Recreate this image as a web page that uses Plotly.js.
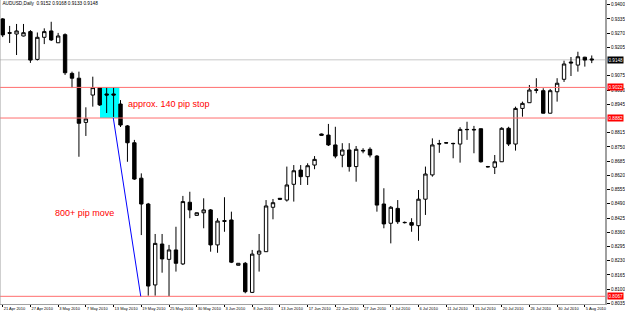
<!DOCTYPE html>
<html>
<head>
<meta charset="utf-8">
<script src="https://cdn.plot.ly/plotly-3.0.1.min.js"></script>
<style>html,body{margin:0;padding:0;background:#fff;}#chart{width:625px;height:315px;}</style>
</head>
<body>
<div id="chart"></div>
<script>
// ---- data (AUDUSD daily bars) ----
const dates = [
"2010-04-21","2010-04-22","2010-04-23","2010-04-26","2010-04-27","2010-04-28","2010-04-29","2010-04-30",
"2010-05-03","2010-05-04","2010-05-05","2010-05-06","2010-05-07","2010-05-10","2010-05-11","2010-05-12",
"2010-05-13","2010-05-14","2010-05-17","2010-05-18","2010-05-19","2010-05-20","2010-05-21","2010-05-24",
"2010-05-25","2010-05-26","2010-05-27","2010-05-28","2010-05-30","2010-05-31","2010-06-01","2010-06-02",
"2010-06-03","2010-06-04","2010-06-06","2010-06-07","2010-06-08","2010-06-09","2010-06-10","2010-06-11",
"2010-06-13","2010-06-14","2010-06-15","2010-06-16","2010-06-17","2010-06-18","2010-06-20","2010-06-21",
"2010-06-22","2010-06-23","2010-06-24","2010-06-25","2010-06-27","2010-06-28","2010-06-29","2010-06-30",
"2010-07-01","2010-07-02","2010-07-04","2010-07-05","2010-07-06","2010-07-07","2010-07-08","2010-07-09",
"2010-07-11","2010-07-12","2010-07-13","2010-07-14","2010-07-15","2010-07-16","2010-07-18","2010-07-19",
"2010-07-20","2010-07-21","2010-07-22","2010-07-23","2010-07-26","2010-07-27","2010-07-28","2010-07-29",
"2010-07-30","2010-08-02","2010-08-03","2010-08-04","2010-08-05","2010-08-06"];

const open = [
0.9335,0.9272,0.9266,0.9257,0.9277,0.9150,0.9251,0.9280,0.9226,0.9263,0.9086,0.9064,0.8862,0.8987,0.9021,0.8992,
0.8992,0.8946,0.8846,0.8769,0.8607,0.8489,0.8119,0.8306,0.8236,0.8279,0.8215,0.8497,0.8437,0.8449,0.8462,0.8302,
0.8413,0.8416,0.8209,0.8218,0.8085,0.8260,0.8271,0.8474,0.8515,0.8507,0.8579,0.8644,0.8614,0.8667,0.8809,0.8804,
0.8759,0.8712,0.8736,0.8660,0.8734,0.8739,0.8708,0.8489,0.8401,0.8469,0.8405,0.8404,0.8390,0.8511,0.8622,0.8763,
0.8769,0.8766,0.8763,0.8830,0.8830,0.8833,0.8660,0.8657,0.8682,0.8835,0.8763,0.8926,0.8952,0.9011,0.9007,0.8904,
0.9002,0.9059,0.9138,0.9124,0.9160,0.9152];
const high = [
0.9339,0.9303,0.9312,0.9312,0.9284,0.9273,0.9292,0.9322,0.9271,0.9269,0.9094,0.9094,0.8931,0.9071,0.9022,0.9022,
0.9022,0.8964,0.8850,0.8782,0.8629,0.8494,0.8352,0.8352,0.8302,0.8385,0.8526,0.8545,0.8450,0.8515,0.8466,0.8424,
0.8520,0.8454,0.8219,0.8224,0.8279,0.8352,0.8507,0.8512,0.8516,0.8660,0.8667,0.8667,0.8675,0.8708,0.8811,0.8855,
0.8842,0.8767,0.8767,0.8754,0.8744,0.8748,0.8713,0.8561,0.8480,0.8507,0.8409,0.8424,0.8553,0.8660,0.8789,0.8782,
0.8772,0.8769,0.8840,0.8865,0.8846,0.8834,0.8663,0.8713,0.8840,0.8842,0.8934,0.8957,0.9033,0.9064,0.9018,0.9015,
0.9064,0.9144,0.9161,0.9185,0.9162,0.9168];
const low = [
0.9252,0.9225,0.9170,0.9255,0.9134,0.9145,0.9220,0.9234,0.9225,0.9079,0.9019,0.8705,0.8800,0.8934,0.8937,0.8905,
0.8887,0.8841,0.8682,0.8599,0.8347,0.8070,0.8070,0.8175,0.8067,0.8180,0.8210,0.8424,0.8436,0.8378,0.8271,0.8266,
0.8362,0.8219,0.8208,0.8081,0.8082,0.8180,0.8270,0.8419,0.8507,0.8500,0.8500,0.8576,0.8576,0.8648,0.8802,0.8754,
0.8698,0.8657,0.8637,0.8591,0.8721,0.8702,0.8454,0.8378,0.8309,0.8398,0.8400,0.8362,0.8321,0.8439,0.8614,0.8723,
0.8766,0.8698,0.8678,0.8782,0.8721,0.8678,0.8656,0.8626,0.8681,0.8754,0.8733,0.8888,0.8951,0.8995,0.8903,0.8903,
0.8957,0.9047,0.9074,0.9094,0.9117,0.9133];
const close = [
0.9262,0.9270,0.9280,0.9272,0.9147,0.9251,0.9277,0.9239,0.9257,0.9089,0.9064,0.8858,0.8878,0.9021,0.8942,0.8987,
0.8987,0.8850,0.8769,0.8603,0.8489,0.8114,0.8309,0.8238,0.8279,0.8218,0.8500,0.8462,0.8449,0.8462,0.8302,0.8411,
0.8410,0.8223,0.8218,0.8088,0.8260,0.8274,0.8480,0.8495,0.8511,0.8576,0.8641,0.8614,0.8664,0.8693,0.8803,0.8759,
0.8708,0.8736,0.8660,0.8739,0.8732,0.8713,0.8484,0.8398,0.8474,0.8408,0.8404,0.8392,0.8511,0.8626,0.8759,0.8765,
0.8768,0.8765,0.8830,0.8829,0.8828,0.8682,0.8659,0.8682,0.8835,0.8763,0.8926,0.8949,0.9010,0.9009,0.8904,0.9007,
0.9041,0.9129,0.9134,0.9162,0.9147,0.9148];

const tickDates = ["2010-04-21","2010-04-27","2010-05-03","2010-05-07","2010-05-13","2010-05-19","2010-05-25","2010-05-30",
"2010-06-03","2010-06-08","2010-06-13","2010-06-17","2010-06-22","2010-06-27","2010-07-01","2010-07-06","2010-07-11",
"2010-07-15","2010-07-20","2010-07-26","2010-07-30","2010-08-05"];
const tickLabels = ["21 Apr 2010","27 Apr 2010","3 May 2010","7 May 2010","13 May 2010","19 May 2010","25 May 2010","30 May 2010",
"3 Jun 2010","8 Jun 2010","13 Jun 2010","17 Jun 2010","22 Jun 2010","27 Jun 2010","1 Jul 2010","6 Jul 2010","11 Jul 2010",
"15 Jul 2010","20 Jul 2010","26 Jul 2010","30 Jul 2010","5 Aug 2010"];
// price scale labels (0.9140 and 0.8880 are hidden under the price tags in the reference)
const priceTicks = [0.9400,0.9335,0.9270,0.9205,0.9075,0.9010,0.8945,0.8815,0.8750,0.8685,0.8620,0.8555,
0.8490,0.8425,0.8360,0.8295,0.8230,0.8165,0.8100,0.8035];

// horizontal levels and drawn objects
const stopTop = 0.9022;
const stopBottom = 0.8882;
const moveLow = 0.8067;
const lastPrice = close[close.length - 1];
const stopZoneBars = [14.04, 16.83];
const moveLineBars = [15.96, 19.92];

const n = dates.length;
const fmt = v => v.toFixed(4);

const trace = {
  type: 'candlestick', x: dates, open: open, high: high, low: low, close: close,
  increasing: {line: {color: '#000000', width: 1}, fillcolor: '#ffffff'},
  decreasing: {line: {color: '#000000', width: 1}, fillcolor: '#000000'},
  whiskerwidth: 0, hoverinfo: 'skip', showlegend: false
};

const redLine = 'rgb(255,110,110)';
const shapes = [
  {type:'rect', xref:'x', yref:'y', x0: stopZoneBars[0], x1: stopZoneBars[1], y0: stopBottom, y1: stopTop,
   fillcolor:'#00ffff', line:{width:0}, layer:'below'},
  {type:'line', xref:'paper', yref:'y', x0:0, x1:1, y0:lastPrice, y1:lastPrice, line:{color:'#c8c8c8', width:1}, layer:'below'},
  {type:'line', xref:'paper', yref:'y', x0:0, x1:1, y0:stopTop, y1:stopTop, line:{color:redLine, width:1}},
  {type:'line', xref:'paper', yref:'y', x0:0, x1:1, y0:stopBottom, y1:stopBottom, line:{color:redLine, width:1}},
  {type:'line', xref:'paper', yref:'y', x0:0, x1:1, y0:moveLow, y1:moveLow, line:{color:redLine, width:1}},
  {type:'line', xref:'x', yref:'y', x0: moveLineBars[0], x1: moveLineBars[1], y0: stopBottom, y1: moveLow,
   line:{color:'#0000ff', width:1}},
  {type:'line', xref:'paper', yref:'paper', x0:0, x1:0, y0:0, y1:1, line:{color:'#a0a0a0', width:1}}
];

function priceTag(v, bg) {
  return {xref:'paper', yref:'y', x:1, y:v, xanchor:'left', yanchor:'middle', xshift:2,
    text: fmt(v), showarrow:false, bgcolor:bg, borderpad:0.5,
    font:{family:'Arial, Liberation Sans, sans-serif', size:4.6, color:'#ffffff'}};
}

const annotations = [
  priceTag(stopTop, '#ff0000'),
  priceTag(stopBottom, '#ff0000'),
  priceTag(moveLow, '#ff0000'),
  priceTag(lastPrice, '#000000'),
  {xref:'x', yref:'y', x: 17.8, y: 0.8944, xanchor:'left', yanchor:'middle', text:'approx. 140 pip stop',
   showarrow:false, font:{family:'Arial, Liberation Sans, sans-serif', size:9, color:'#ff0000'}},
  {xref:'x', yref:'y', x: 7.25, y: 0.8448, xanchor:'left', yanchor:'middle', text:'800+ pip move',
   showarrow:false, font:{family:'Arial, Liberation Sans, sans-serif', size:9, color:'#ff0000'}}
];

const layout = {
  width: 625, height: 315,
  margin: {l:0, r:20, t:0, b:11, pad:0},
  paper_bgcolor:'#ffffff', plot_bgcolor:'#ffffff',
  title: {text: 'AUDUSD,Daily  ' + [open[n-1], high[n-1], low[n-1], close[n-1]].map(fmt).join(' '),
          x: 0.004, xanchor:'left', y: 0.995, yanchor:'top', xref:'paper', yref:'container',
          font:{family:'Arial, Liberation Sans, sans-serif', size:4.7, color:'#000000'}},
  showlegend: false,
  hovermode: false,
  xaxis: {
    type:'category', range:[-0.39, 86.91], rangeslider:{visible:false},
    tickmode:'array', tickvals: tickDates, ticktext: tickLabels, tickangle: 0, automargin: false,
    ticks:'outside', ticklen:2, tickcolor:'#000000', ticklabelposition:'outside right',
    tickfont:{family:'Arial, Liberation Sans, sans-serif', size:4, color:'#000000'},
    showgrid:false, zeroline:false, showline:true, mirror:true, linecolor:'#a0a0a0', linewidth:1,
    fixedrange:true
  },
  yaxis: {
    side:'right', range:[0.80319, 0.94215], automargin: false,
    tickmode:'array', tickvals: priceTicks, ticktext: priceTicks.map(fmt),
    ticks:'outside', ticklen:3, tickcolor:'#000000',
    tickfont:{family:'Arial, Liberation Sans, sans-serif', size:4.6, color:'#000000'},
    showgrid:false, zeroline:false, showline:true, linecolor:'#a0a0a0', linewidth:2,
    fixedrange:true
  },
  shapes: shapes,
  annotations: annotations
};

Plotly.newPlot('chart', [trace], layout, {displayModeBar:false, staticPlot:true});
</script>
</body>
</html>
